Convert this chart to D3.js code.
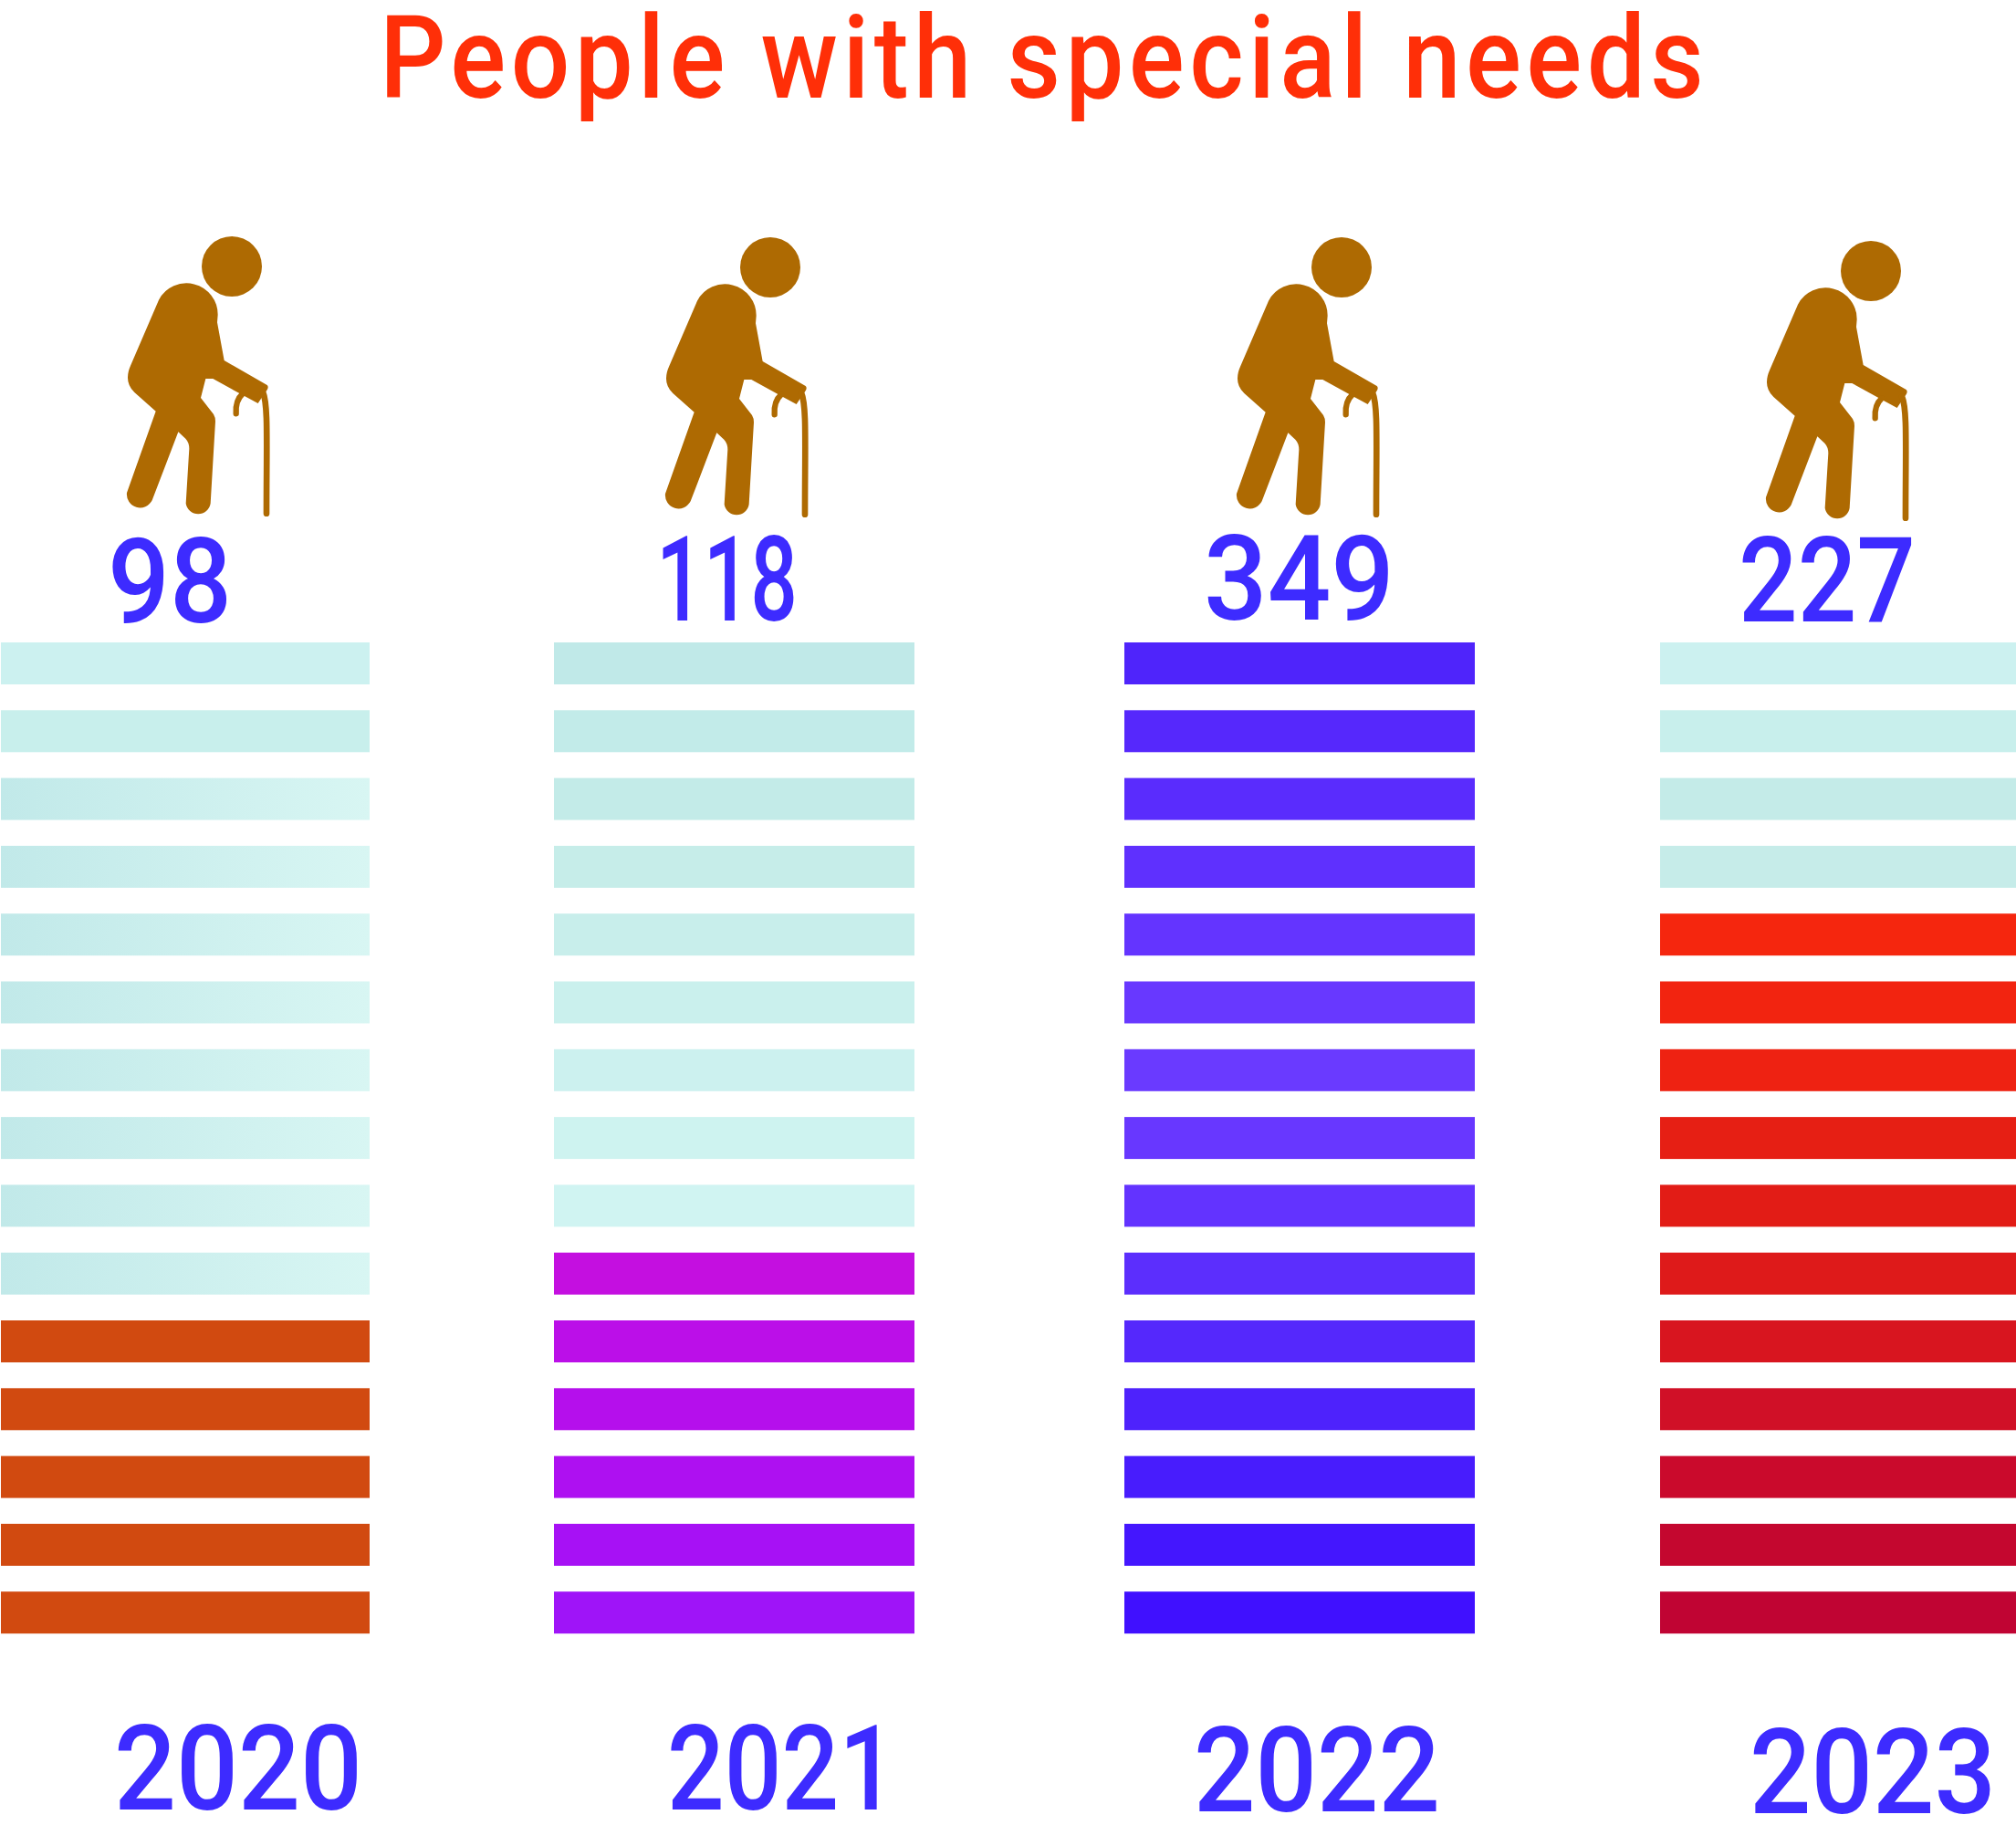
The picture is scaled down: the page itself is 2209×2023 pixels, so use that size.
<!DOCTYPE html>
<html>
<head>
<meta charset="utf-8">
<title>People with special needs</title>
<script src="https://cdn.jsdelivr.net/npm/d3@7"></script>
<style>
	html,body{margin:0;padding:0;background:#fff;}
	text{font-family:Roboto,sans-serif;font-weight:500;}
</style>
</head>
<body>
<div id="grafica"></div>
<script>
var titulo="People with special needs";
var years=["2020","2021","2022","2023"];
var totals=[98,118,349,227];
var paleRows=[10,9,0,4];   // rows left pale, counted from the top
var rows=d3.range(15);

// Row colours, top to bottom
var pale2020=["#ccf1f0","#c8efec"];
var pale2021=["#c0e9e8","#c2ebe9","#c3ebe8","#c6ede9","#c8eeeb","#caf0ed","#ccf1ef","#cef3f0","#d0f4f2"];
var pale2023=["#ccf1f0","#c8efec","#c4ebe8","#c6ece9"];
var strong2020=["#d14a10","#d14a10","#d14a10","#d14a10","#d14a10"];
var strong2021=["#c40fe0","#bb0fe8","#b50fec","#ae10f1","#a711f5","#9f14f8"];
var strong2022=["#4f24fb","#5628fc","#5a2cfd","#5f30fe","#6434ff","#6838ff","#6a3aff","#6837ff","#6333ff","#5c2efd","#5528fc","#4e22fc","#481cfd","#4416fe","#4010ff"];
var strong2023=["#f5260e","#f22410","#ee2212","#e61f14","#e21c16","#de1a1a","#d8151f","#d01027","#ca0a2c","#c4072f","#c00433"];

visualizacionFilas();

function visualizacionFilas(){
	var ancho=2209,alto=2023;

	var svg=d3.select("#grafica")
		.append("svg")
		.attr("width",ancho)
		.attr("height",alto)
		.style("display","block");

	var defs=svg.append("defs");
	var grad=defs.append("linearGradient").attr("id","paleGrad");
	grad.append("stop").attr("offset","0%").attr("stop-color","#c1e9e9");
	grad.append("stop").attr("offset","100%").attr("stop-color","#d8f6f3");

	// Columns do not share one width, so both edges are ordinal
	var x0=d3.scaleOrdinal().domain(years).range([1,607,1232,1819]);
	var x1=d3.scaleOrdinal().domain(years).range([405,1002,1616,2209]);
	var y=d3.scaleBand().domain(rows).range([704,1790.2]).paddingInner(.381);

	function colorFila(i,r){
		var pale=r<paleRows[i];
		if(i==0) return pale ? (r<2 ? pale2020[r] : "url(#paleGrad)") : strong2020[r-paleRows[i]];
		if(i==1) return pale ? pale2021[r] : strong2021[r-paleRows[i]];
		if(i==2) return strong2022[r];
		return pale ? pale2023[r] : strong2023[r-paleRows[i]];
	}

	var columnas=svg.selectAll("g.columna")
		.data(years)
		.enter()
		.append("g")
		.attr("class","columna");

	columnas.selectAll("rect")
		.data(function(d,i){return rows.map(function(r){return {year:d,i:i,r:r}})})
		.enter()
		.append("rect")
		.attr("x",d=>x0(d.year))
		.attr("y",d=>y(d.r))
		.attr("width",d=>x1(d.year)-x0(d.year))
		.attr("height",y.bandwidth())
		.style("fill",d=>colorFila(d.i,d.r));

	// Walking figure, drawn once and reused
	var figura=defs.append("g").attr("id","figura");
	figura.append("circle").attr("cx",462).attr("cy",186).attr("r",99);
	figura.append("path")
		.attr("d","M222 296A103 103 0 0 1 416 345L414 370L437 495L578 576Q584 582 578 592L570 603L548 636L505 613L400 555L376 555L360 618L402 672Q408 682 408 695L392 965A41 41 0 0 1 311 965L322 785Q322 765 310 752L286 730L200 955A44 44 0 0 1 117 930L212 662L142 600Q105 565 130 510Z");
	figura.append("path")
		.attr("d","M564 598C582 640 576 760 576 998")
		.attr("fill","none").attr("stroke","#ae6a02").attr("stroke-width",20).attr("stroke-linecap","round");
	figura.append("path")
		.attr("d","M476 670C474 640 482 618 498 604")
		.attr("fill","none").attr("stroke","#ae6a02").attr("stroke-width",19).attr("stroke-linecap","round");

	var iconX=d3.scaleOrdinal().domain(years).range([100,690,1316,1896]);
	var iconY=d3.scaleOrdinal().domain(years).range([230,231,231,235]);

	svg.selectAll("use.figura")
		.data(years)
		.enter()
		.append("use")
		.attr("class","figura")
		.attr("href","#figura")
		.attr("fill","#ae6a02")
		.attr("transform",d=>"translate("+iconX(d)+","+iconY(d)+") scale("+(1/3)+")");

	// Squeeze a text sideways to the width it takes in the picture
	function ajustar(sel,fx,fy,fw){
		sel.attr("transform",function(d,i){
			var sx=fw(d,i)/this.getComputedTextLength();
			return "translate("+fx(d,i)+","+fy(d,i)+") scale("+sx+",1)";
		});
	}

	var tamano=130;
	var totalX=d3.scaleOrdinal().domain(years).range([118,719,1319,1905]);
	var totalAncho=d3.scaleOrdinal().domain(years).range([136,155,209,194]);
	var totalY=d3.scaleOrdinal().domain(years).range([682,680,679,681]);

	svg.selectAll("text.total")
		.data(totals)
		.enter()
		.append("text")
		.attr("class","total")
		.style("font-size",tamano+"px")
		.style("fill","#3d2bff")
		.text(d=>d)
		.call(ajustar,(d,i)=>totalX(years[i]),(d,i)=>totalY(years[i]),(d,i)=>totalAncho(years[i]));

	var yearX=d3.scaleOrdinal().domain(years).range([125,731,1308,1917]);
	var yearAncho=d3.scaleOrdinal().domain(years).range([272,251,270,270]);
	var yearY=d3.scaleOrdinal().domain(years).range([1983,1983,1985,1987]);

	svg.selectAll("text.anio")
		.data(years)
		.enter()
		.append("text")
		.attr("class","anio")
		.style("font-size",tamano+"px")
		.style("fill","#3d2bff")
		.text(d=>d)
		.call(ajustar,d=>yearX(d),d=>yearY(d),d=>yearAncho(d));

	// Title: narrower glyphs, opened up with letter spacing
	var tituloSx=.9;
	var tit=svg.append("text")
		.style("font-size","126.5px")
		.style("fill","#ff2f08")
		.text(titulo);
	var natural=tit.node().getComputedTextLength();
	tit.style("letter-spacing",((1451/tituloSx-natural)/(titulo.length-1))+"px")
		.attr("transform","translate(416,107) scale("+tituloSx+",1)");
}
</script>
</body>
</html>
